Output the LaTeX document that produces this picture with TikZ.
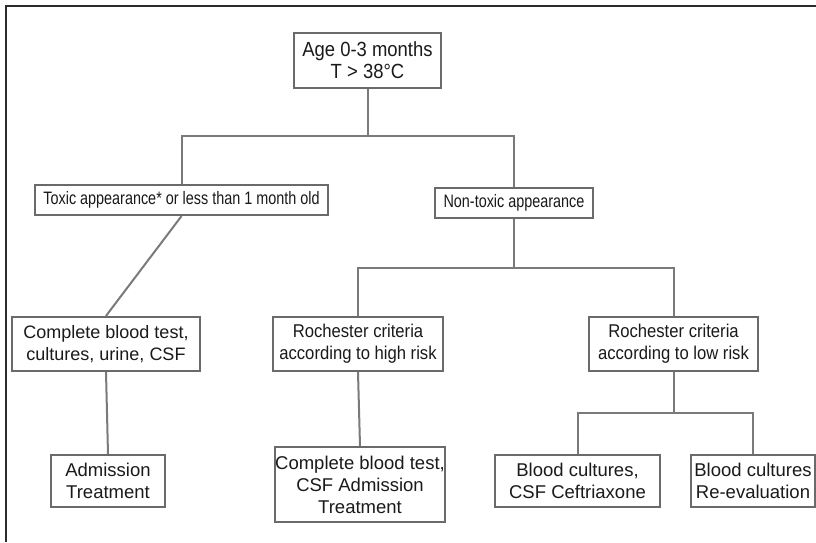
\documentclass[tikz,border=0pt]{standalone}
\usepackage{fontspec}
\setmainfont{Liberation Sans}
\newfontfamily\narrowsf[FakeStretch=0.8]{Liberation Sans}
\newfontfamily\semisf[FakeStretch=0.9]{Liberation Sans}
\usepackage{tikz}
\definecolor{boxgray}{HTML}{6A6A6A}
\definecolor{linegray}{HTML}{7A7A7A}
\definecolor{framegray}{HTML}{2B2B2B}
\definecolor{textblack}{HTML}{1A1A1A}

\begin{document}
\begin{tikzpicture}[x=1pt, y=-1pt,
    box/.style={draw=boxgray, line width=2.2pt, fill=white, text=textblack, align=center, inner sep=0pt},
    wire/.style={draw=linegray, line width=2pt},
    toptext/.style={font=\semisf\fontsize{20.5}{22}\selectfont},
    narrowtext/.style={font=\narrowsf\fontsize{18}{22}\selectfont},
    midtext/.style={font=\semisf\fontsize{18.5}{22}\selectfont},
    lowtext/.style={font=\fontsize{18.5}{22}\selectfont}]
    \useasboundingbox (0,0) rectangle (816,542);
    \draw[framegray, line width=2.4pt] (6,542) -- (6,6) -- (816,6);

    \node[box, toptext, minimum width=147pt, minimum height=55pt] (root) at (367.5,60.5) {Age 0-3 months\\T > 38°C};
    \node[box, narrowtext, minimum width=293pt, minimum height=30pt] (toxic) at (181.5,200) {Toxic appearance* or less than 1 month old};
    \node[box, narrowtext, minimum width=158pt, minimum height=30pt] (nontox) at (514,203) {Non-toxic appearance};
    \node[box, lowtext, font=\fontsize{18}{22}\selectfont, minimum width=188pt, minimum height=54pt] (cbt) at (106,344) {Complete blood test,\\cultures, urine, CSF};
    \node[box, midtext, minimum width=170pt, minimum height=54pt] (high) at (358,344) {Rochester criteria\\according to high risk};
    \node[box, midtext, minimum width=169pt, minimum height=54pt] (low) at (673.5,344) {Rochester criteria\\according to low risk};
    \node[box, lowtext, minimum width=114pt, minimum height=52pt] (adm) at (108,481) {Admission\\Treatment};
    \node[box, lowtext, minimum width=162pt, minimum height=75pt] (cbtadm) at (360,484.5) {Complete blood test,\\CSF Admission\\Treatment};
    \node[box, lowtext, minimum width=165pt, minimum height=52pt] (ceft) at (577.5,481) {Blood cultures,\\CSF Ceftriaxone};
    \node[box, lowtext, minimum width=124pt, minimum height=52pt] (reeval) at (753,481) {Blood cultures\\Re-evaluation};

    \coordinate (split1) at (367.5,136);
    \coordinate (split2) at (514,268);
    \coordinate (split3) at (673.5,413);

    \draw[wire] (root.south) -- (split1) -| (toxic.north);
    \draw[wire] (split1) -| (nontox.north);
    \draw[wire] (toxic.south) -- (cbt.north);
    \draw[wire] (cbt.south) -- (adm.north);
    \draw[wire] (nontox.south) -- (split2) -| (high.north);
    \draw[wire] (split2) -| (low.north);
    \draw[wire] (high.south) -- (cbtadm.north);
    \draw[wire] (low.south) -- (split3) -| (ceft.north);
    \draw[wire] (split3) -| (reeval.north);
\end{tikzpicture}
\end{document}
